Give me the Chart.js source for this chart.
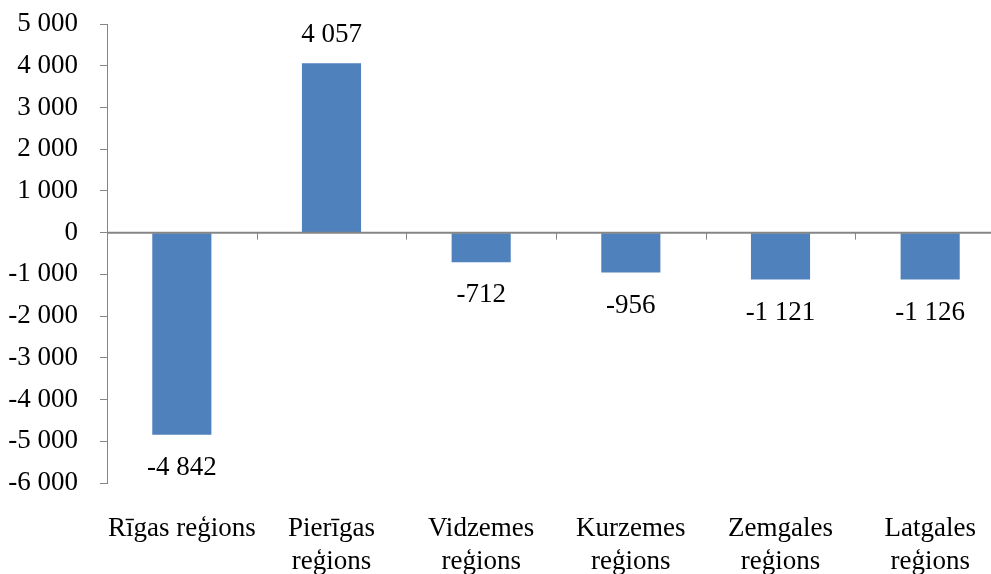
<!DOCTYPE html>
<html>
<head>
<meta charset="utf-8">
<script src="https://cdn.jsdelivr.net/npm/chart.js@4"></script>
<style>
  html, body { margin: 0; padding: 0; background: #fff; overflow: hidden; }
  #wrap { width: 1005px; height: 574px; }
</style>
</head>
<body>
<div id="wrap"><canvas id="balanceChart" width="1005" height="574"></canvas></div>
<script>
// Data
const regions = [
    'Rīgas reģions',
    ['Pierīgas', 'reģions'],
    ['Vidzemes', 'reģions'],
    ['Kurzemes', 'reģions'],
    ['Zemgales', 'reģions'],
    ['Latgales', 'reģions']
];
const balance = [-4842, 4057, -712, -956, -1121, -1126];
const yTicks = [-6000, -5000, -4000, -3000, -2000, -1000, 0, 1000, 2000, 3000, 4000, 5000];

const axisGray = '#868686';
const fontFamily = '"Liberation Serif", "Times New Roman", serif';
const fontSize = 27;

function fmt(v) {
    return String(v).replace(/\B(?=(\d{3})+(?!\d))/g, ' ');
}

// zero line with small category ticks
const zeroAxis = {
    id: 'zeroAxis',
    afterDatasetsDraw(chart) {
        const ctx = chart.ctx;
        const x = chart.scales.x;
        const y = chart.scales.y;
        const y0 = y.getPixelForValue(0);
        const step = x.getPixelForValue(1) - x.getPixelForValue(0);
        ctx.save();
        ctx.strokeStyle = axisGray;
        ctx.lineWidth = 2;
        ctx.beginPath();
        ctx.moveTo(chart.chartArea.left, y0);
        ctx.lineTo(chart.chartArea.right, y0);
        ctx.stroke();
        ctx.lineWidth = 1;
        for (let i = 0; i < regions.length; i++) {
            const bx = Math.round(x.getPixelForValue(i) + step / 2) + 0.5;
            ctx.beginPath();
            ctx.moveTo(bx, y0);
            ctx.lineTo(bx, y0 + 7);
            ctx.stroke();
        }
        ctx.restore();
    }
};

// value labels above / below the bars
const valueLabels = {
    id: 'valueLabels',
    afterDatasetsDraw(chart) {
        const ctx = chart.ctx;
        const meta = chart.getDatasetMeta(0);
        ctx.save();
        ctx.font = fontSize + 'px ' + fontFamily;
        ctx.fillStyle = '#000';
        ctx.textAlign = 'center';
        ctx.textBaseline = 'middle';
        meta.data.forEach((bar, i) => {
            const v = balance[i];
            const ly = v >= 0 ? bar.y - 28 : bar.y + 33;
            ctx.fillText(fmt(v), bar.x, ly);
        });
        ctx.restore();
    }
};

function initializeChart() {
    const ctx = document.getElementById('balanceChart').getContext('2d');
    new Chart(ctx, {
        type: 'bar',
        data: {
            labels: regions,
            datasets: [{
                data: balance,
                backgroundColor: '#4F81BD',
                borderWidth: 0,
                categoryPercentage: 1,
                barPercentage: 0.395
            }]
        },
        options: {
            responsive: false,
            animation: false,
            layout: { padding: { top: 24, right: 0, bottom: 0, left: 0 } },
            plugins: {
                legend: { display: false },
                tooltip: { enabled: false }
            },
            scales: {
                x: {
                    grid: { display: false },
                    border: { display: false },
                    ticks: {
                        color: '#000',
                        padding: 22,
                        maxRotation: 0,
                        autoSkip: false,
                        font: { family: fontFamily, size: fontSize, lineHeight: 1.2 }
                    },
                    afterFit(scale) { scale.height = 91; }
                },
                y: {
                    min: -6000,
                    max: 5000,
                    afterBuildTicks(scale) {
                        scale.ticks = yTicks.map(v => ({ value: v }));
                    },
                    grid: {
                        drawOnChartArea: false,
                        color: axisGray,
                        tickLength: 7
                    },
                    border: { display: true, color: axisGray, width: 1 },
                    ticks: {
                        color: '#000',
                        padding: 22,
                        font: { family: fontFamily, size: fontSize },
                        callback: v => fmt(v)
                    },
                    afterFit(scale) {
                        scale.width = 107;
                        scale.paddingTop = 0;
                        scale.paddingBottom = 0;
                    }
                }
            }
        },
        plugins: [zeroAxis, valueLabels]
    });
}

document.addEventListener('DOMContentLoaded', initializeChart);
</script>
</body>
</html>
